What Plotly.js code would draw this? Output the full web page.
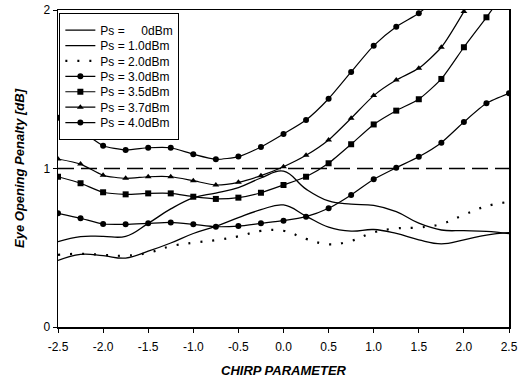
<!DOCTYPE html>
<html>
<head>
<meta charset="utf-8">
<script src="https://cdn.plot.ly/plotly-3.0.1.min.js"></script>
<style>html,body{margin:0;padding:0;background:#fff;}#chart{width:522px;height:382px;}</style>
</head>
<body>
<div id="chart"></div>
<script>
// Chirp parameter sample positions
const chirp = [-2.5,-2.25,-2.0,-1.75,-1.5,-1.25,-1.0,-0.75,-0.5,-0.25,0.0,0.25,0.5,0.75,1.0,1.25,1.5,1.75,2.0,2.25,2.5];

// Series values (eye opening penalty, dB)
const ps0  = [0.42,0.458,0.45,0.435,0.478,0.53,0.59,0.635,0.69,0.74,0.77,0.70,0.63,0.605,0.615,0.59,0.55,0.525,0.55,0.58,0.595];
const ps10 = [0.538,0.57,0.572,0.572,0.654,0.745,0.815,0.845,0.88,0.94,0.983,0.87,0.795,0.775,0.767,0.728,0.655,0.612,0.608,0.603,0.59];
const ps20 = [0.455,0.462,0.455,0.45,0.468,0.51,0.532,0.548,0.572,0.606,0.607,0.556,0.522,0.543,0.597,0.622,0.628,0.65,0.708,0.762,0.79];
const ps30 = [0.717,0.686,0.65,0.648,0.654,0.66,0.648,0.633,0.637,0.654,0.671,0.696,0.749,0.833,0.932,1.005,1.074,1.163,1.293,1.411,1.474];
const ps35 = [0.948,0.907,0.85,0.837,0.843,0.843,0.822,0.808,0.816,0.847,0.896,0.948,1.033,1.153,1.278,1.365,1.437,1.565,1.765,1.954,2.15];
const ps37 = [1.06,1.028,0.957,0.938,0.948,0.948,0.923,0.896,0.913,0.955,1.011,1.083,1.18,1.317,1.46,1.558,1.632,1.765,1.99,2.25];
const ps40 = [1.32,1.24,1.144,1.117,1.131,1.131,1.09,1.058,1.075,1.136,1.218,1.306,1.44,1.609,1.775,1.895,1.98,2.1];

const thresholdY = 1;
const legendNames = ["Ps =\u00a0\u00a0\u00a0\u00a0\u00a00dBm","Ps = 1.0dBm","Ps = 2.0dBm","Ps = 3.0dBm","Ps = 3.5dBm","Ps = 3.7dBm","Ps = 4.0dBm"];
const xTicks = [-2.5,-2.0,-1.5,-1.0,-0.5,0.0,0.5,1.0,1.5,2.0,2.5];
const yTicks = [0,1,2];

const n = (arr) => chirp.slice(0, arr.length);

const traces = [
  {x:n(ps0), y:ps0, name:legendNames[0], mode:'lines', line:{color:'#000',width:1.3,shape:'spline',smoothing:1.2}},
  {x:n(ps10), y:ps10, name:legendNames[1], mode:'lines', line:{color:'#000',width:1.3,shape:'spline',smoothing:1.2}},
  {x:n(ps20), y:ps20, name:legendNames[2], mode:'lines', line:{color:'#000',width:2.2,dash:'2px,10px',shape:'spline',smoothing:1.2}},
  {x:n(ps30), y:ps30, name:legendNames[3], mode:'lines+markers', line:{color:'#000',width:1.2,shape:'spline',smoothing:0.6}, marker:{symbol:'circle',size:6,color:'#000'}},
  {x:n(ps35), y:ps35, name:legendNames[4], mode:'lines+markers', line:{color:'#000',width:1.2,shape:'spline',smoothing:0.6}, marker:{symbol:'square',size:6,color:'#000'}},
  {x:n(ps37), y:ps37, name:legendNames[5], mode:'lines+markers', line:{color:'#000',width:1.2,shape:'spline',smoothing:0.6}, marker:{symbol:'triangle-up',size:6,color:'#000'}},
  {x:n(ps40), y:ps40, name:legendNames[6], mode:'lines+markers', line:{color:'#000',width:1.2,shape:'spline',smoothing:0.6}, marker:{symbol:'circle',size:6,color:'#000'}},
  {x:[chirp[0], chirp[chirp.length-1]], y:[thresholdY, thresholdY], mode:'lines', showlegend:false, line:{color:'#000',width:1.5,dash:'16px,7px'}}
];

const layout = {
  width:522, height:382,
  margin:{l:58, r:13, t:10, b:55},
  paper_bgcolor:'#fff', plot_bgcolor:'#fff',
  font:{family:'Liberation Sans, Arial, sans-serif', size:12, color:'#000'},
  showlegend:true,
  legend:{x:0.003, y:0.99, xanchor:'left', yanchor:'top', bgcolor:'#fff', bordercolor:'#000', borderwidth:1,
          font:{size:12, color:'#000'}, tracegroupgap:0, itemwidth:30},
  xaxis:{range:[-2.5,2.5], tickvals:xTicks, ticktext:xTicks.map(v=>v.toFixed(1)), ticks:'outside', ticklen:4, tickcolor:'#000',
         ticklabelstandoff:4,
         showgrid:false, zeroline:false, showline:true, linecolor:'#000', linewidth:1.5, mirror:true,
         tickfont:{size:12}, title:{text:'<b><i>CHIRP PARAMETER</i></b>', font:{size:13}, standoff:13}},
  yaxis:{range:[0,2], tickvals:yTicks, ticks:'outside', ticklen:4, tickcolor:'#000',
         showgrid:false, zeroline:false, showline:true, linecolor:'#000', linewidth:1.5, mirror:true,
         tickfont:{size:12}, title:{text:'<b><i>Eye Opening Penalty [dB]</i></b>', font:{size:13}, standoff:16}}
};

// Tighter legend row spacing than Plotly's minimum, as in the reference
const legendRowGap = 15.4, legendTopPad = 17, legendBottomPad = 16;

Plotly.newPlot('chart', traces, layout, {displayModeBar:false, staticPlot:true}).then(gd => {
  const leg = gd.querySelector('.legend');
  if (!leg) return;
  const items = leg.querySelectorAll('.traces');
  items.forEach((el, i) => {
    const t = el.getAttribute('transform') || '';
    const m = /translate\(\s*([-\d.]+)[ ,]+([-\d.]+)\s*\)/.exec(t);
    const tx = m ? m[1] : 0;
    el.setAttribute('transform', `translate(${tx},${legendTopPad + i * legendRowGap})`);
  });
  const h = legendTopPad + (items.length - 1) * legendRowGap + legendBottomPad;
  const bg = leg.querySelector('rect.bg');
  if (bg) bg.setAttribute('height', h);
});
</script>
</body>
</html>
